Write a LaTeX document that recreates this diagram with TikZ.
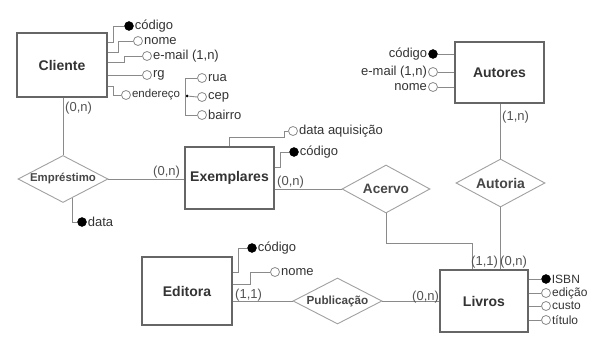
\documentclass[tikz,border=0pt]{standalone}
\usepackage{fontspec}
\setmainfont{Liberation Sans}
\usetikzlibrary{shapes.geometric}
\definecolor{txt}{HTML}{333333}
\definecolor{ln}{HTML}{8A8A8A}
\definecolor{bx}{HTML}{666666}
\tikzset{
  entity/.style={draw=bx, line width=1.3pt, fill=white, minimum width=#1, inner sep=0pt,
     font=\fontsize{14}{16}\selectfont\bfseries, text=txt},
  rel/.style={diamond, draw=ln!80, line width=0.9pt, fill=white, inner sep=0pt, aspect=2,
     font=\fontsize{#1}{14}\selectfont\bfseries, text=txt!90},
  keyat/.style={circle, draw=black, fill=black, minimum size=9pt, inner sep=0pt},
  openat/.style={circle, draw=ln, fill=white, line width=0.8pt, minimum size=9pt, inner sep=0pt},
  attr/.style={font=\fontsize{13}{15}\selectfont, text=txt, inner sep=1pt},
  card/.style={font=\fontsize{13}{15}\selectfont, text=txt!85, inner sep=0pt},
  conn/.style={draw=ln, line width=0.9pt},
}
\begin{document}
\begin{tikzpicture}[x=1pt,y=-1pt]
\useasboundingbox (0,0) rectangle (602,350);
% entities
\node[entity=90pt, minimum height=64pt] (cli) at (62,65) {Cliente};
\node[entity=89pt, minimum height=62pt] (exe) at (229.5,178) {Exemplares};
\node[entity=89pt, minimum height=61pt] (aut) at (499.5,72.5) {Autores};
\node[entity=90pt, minimum height=68pt] (edi) at (187,291) {Editora};
\node[entity=88pt, minimum height=62pt] (liv) at (484,301) {Livros};
% relationships
\node[rel=11.4, minimum width=90pt, minimum height=47pt] (emp) at (63,179) {Empréstimo};
\node[rel=13.6, minimum width=88pt, minimum height=48pt] (acv) at (386,189) {Acervo};
\node[rel=14, minimum width=89pt, minimum height=48pt] (auta) at (500.5,183) {Autoria};
\node[rel=11.7, minimum width=89pt, minimum height=46pt] (pub) at (337.5,301) {Publicação};
% relationship connectors
\draw[conn] (emp.north |- cli.south) -- (emp.north);
\draw[conn] (emp.east) -- (emp.east -| exe.west);
\draw[conn] (acv.west -| exe.east) -- (acv.west);
\draw[conn] (acv.south) -- ++(0,30) -| ([xshift=-12pt]liv.north);
\draw[conn] (auta.north |- aut.south) -- (auta.north);
\draw[conn] (auta.south) -- (auta.south |- liv.north);
\draw[conn] (pub.west -| edi.east) -- (pub.west);
\draw[conn] (pub.east) -- (pub.east -| liv.west);
% cardinalities
\node[card, anchor=west] (k1) at (65,108) {(0,n)};
\node[card, anchor=west] (k2) at (153,172) {(0,n)};
\node[card, anchor=west] (k3) at (277,182) {(0,n)};
\node[card, anchor=west] (k4) at (502,117) {(1,n)};
\node[card, anchor=west] (k5) at (471,262) {(1,1)};
\node[card, anchor=west] (k6) at (500,262) {(0,n)};
\node[card, anchor=west] (k7) at (235,295) {(1,1)};
\node[card, anchor=west] (k8) at (412,297) {(0,n)};
% Cliente attributes
\node[keyat] (c1) at (129,26) {};
\node[attr, anchor=west] at (c1.east) {código};
\node[openat] (c2) at (138,41) {};
\node[attr, anchor=west] at (c2.east) {nome};
\node[openat] (c3) at (147,56) {};
\node[attr, anchor=west] at (c3.east) {e-mail (1,n)};
\node[openat] (c4) at (147,75) {};
\node[attr, anchor=west] at (c4.east) {rg};
\node[openat] (c5) at (126,95) {};
\node[attr, anchor=west, font=\fontsize{11.5}{13}\selectfont] (endt) at (c5.east) {endereço};
\node[circle, fill=black, inner sep=0pt, minimum size=3pt] (dot) at (187,96) {};
\node[openat] (rua) at (202,78) {};
\node[attr, anchor=west] at (rua.east) {rua};
\node[openat] (cep) at (202,97) {};
\node[attr, anchor=west] at (cep.east) {cep};
\node[openat] (bai) at (202,115) {};
\node[attr, anchor=west] at (bai.east) {bairro};
\draw[conn] ([yshift=-10pt]cli.north east) -- ++(6,0) |- (c1.west);
\draw[conn] ([yshift=-20pt]cli.north east) -- ++(11,0) |- (c2.west);
\draw[conn] ([yshift=-30pt]cli.north east) -- ++(17,0) |- (c3.west);
\draw[conn] (c4.west -| cli.east) -- (c4.west);
\draw[conn] ([yshift=-54pt]cli.north east) -- ++(6,0) |- (c5.west);
\draw[conn] (dot) -- (cep.west);
\draw[conn] (rua.west) -- ++(-12,0) |- (bai.west);
% Exemplares attributes
\node[openat] (da) at (293,131) {};
\node[attr, anchor=west] at (da.east) {data aquisição};
\node[keyat] (ec) at (294,152) {};
\node[attr, anchor=west] at (ec.east) {código};
\draw[conn] (exe.north) |- ++(55,-9) |- (da.west);
\draw[conn] ([yshift=-21pt]exe.north east) -- ++(6,0) |- (ec.west);
% Emprestimo attribute
\node[keyat] (dt) at (82,222) {};
\node[attr, anchor=west] at (dt.east) {data};
\draw[conn] (emp.-64) |- (dt.west);
% Autores attributes
\node[keyat] (a1) at (433,54) {};
\node[attr, anchor=east] at (a1.west) {código};
\node[openat] (a2) at (433,72) {};
\node[attr, anchor=east] at (a2.west) {e-mail (1,n)};
\node[openat] (a3) at (433,87) {};
\node[attr, anchor=east] at (a3.west) {nome};
\draw[conn] (a1.east) -- (a1.east -| aut.west);
\draw[conn] (a2.east) -- (a2.east -| aut.west);
\draw[conn] (a3.east) -- (a3.east -| aut.west);
% Editora attributes
\node[keyat] (e1) at (252,248) {};
\node[attr, anchor=west] at (e1.east) {código};
\node[openat] (e2) at (275,272) {};
\node[attr, anchor=west] at (e2.east) {nome};
\draw[conn] ([yshift=-16pt]edi.north east) -- ++(6,0) |- (e1.west);
\draw[conn] ([yshift=-28pt]edi.north east) -- ++(18,0) |- (e2.west);
% Livros attributes
\node[keyat] (l1) at (546,279) {};
\node[attr, anchor=west, font=\fontsize{12}{14}\selectfont] at (l1.east) {ISBN};
\node[openat] (l2) at (546,293) {};
\node[attr, anchor=west, font=\fontsize{12}{14}\selectfont] at (l2.east) {edição};
\node[openat] (l3) at (546,306) {};
\node[attr, anchor=west, font=\fontsize{12}{14}\selectfont] at (l3.east) {custo};
\node[openat] (l4) at (546,320) {};
\node[attr, anchor=west, font=\fontsize{12}{14}\selectfont] at (l4.east) {título};
\draw[conn] (l1.west -| liv.east) -- (l1.west);
\draw[conn] (l2.west -| liv.east) -- (l2.west);
\draw[conn] (l3.west -| liv.east) -- (l3.west);
\draw[conn] (l4.west -| liv.east) -- (l4.west);
\end{tikzpicture}
\end{document}
